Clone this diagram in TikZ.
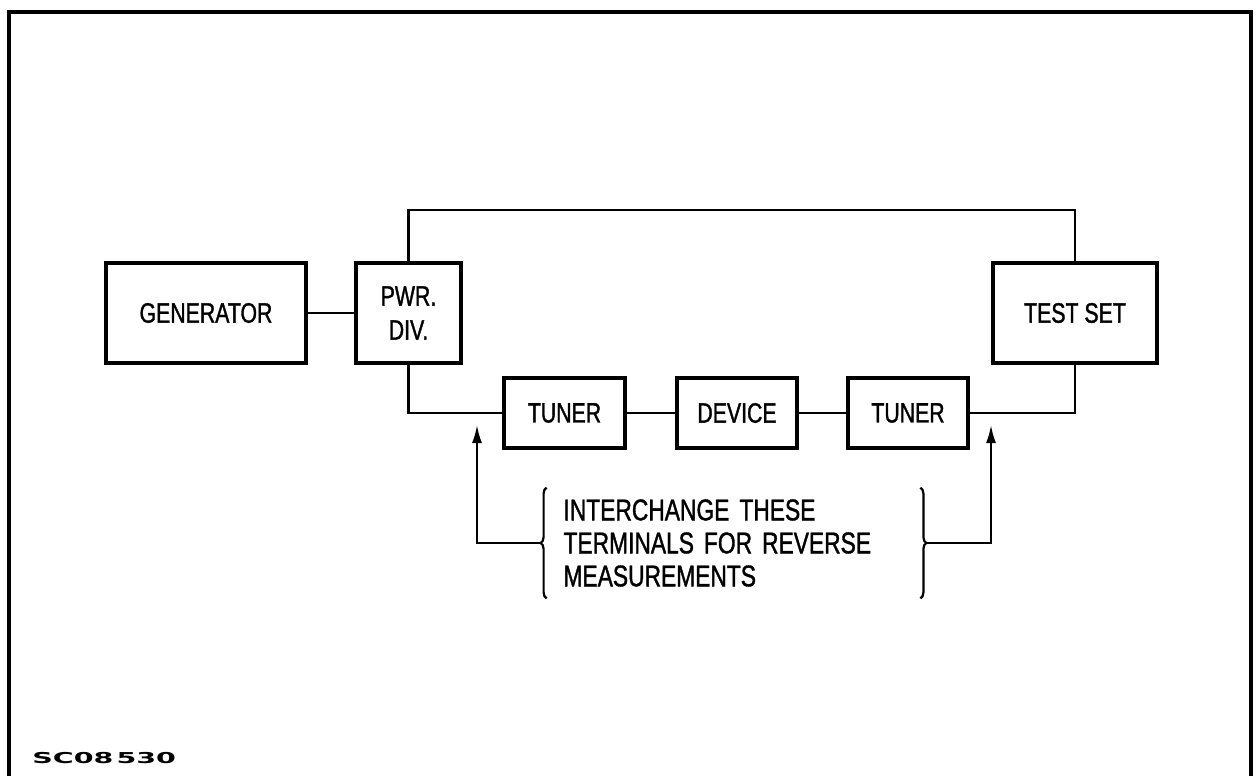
\documentclass[tikz,border=0pt]{standalone}
\usepackage{fontspec}
\newfontfamily\condfont[FakeStretch=0.76, FakeBold=1.2]{Liberation Sans}
\newfontfamily\codefont[FakeStretch=1.9]{DejaVu Sans}
\usetikzlibrary{arrows.meta, positioning, decorations.pathreplacing}

\begin{document}
\begin{tikzpicture}[
    x=0.5pt, y=-0.5pt,
    node distance=24pt,
    block/.style={rectangle, draw, line width=2pt, minimum width=#1, minimum height=50pt, inner sep=0pt, align=center, font=\condfont\fontsize{14}{17}\selectfont},
    smallblock/.style={block=#1, minimum height=35pt},
    note/.style={minimum width=186.5pt, minimum height=55pt, text width=170pt, inner xsep=8pt, align=left, font=\condfont\fontsize{15}{16.5}\selectfont},
    wire/.style={line width=1.1pt},
    arrow/.style={wire, -{Latex[length=9pt, width=5pt]}},
    bracket/.style={wire, decorate, decoration={brace, amplitude=3pt}}
]
    \useasboundingbox (0,0) rectangle (1260,776);
    \draw [line width=2pt] (9,12) rectangle (1251,800);

    \node [block=100pt] (gen) at (206,313) {GENERATOR};
    \node [block=52.5pt, right=23pt of gen] (pwr) {PWR.\\DIV.};
    \node [block=82pt] (test) at (1075,313) {TEST SET};
    \node [smallblock=60.5pt] (tun1) at (564.5,413) {TUNER};
    \node [smallblock=60pt, right=24pt of tun1] (dev) {DEVICE};
    \node [smallblock=60pt, right=23.5pt of dev] (tun2) {TUNER};

    \coordinate (bus) at (0,210);
    \draw [wire] (gen) -- (pwr);
    \draw [wire] (pwr.north) -- (pwr.north |- bus) -| (test.north);
    \draw [wire] (pwr.south) |- (tun1);
    \draw [wire] (tun1) -- (dev);
    \draw [wire] (dev) -- (tun2);
    \draw [wire] (tun2) -| (test.south);

    % note on swapping the terminals
    \node [note] (note) at (733.5,543) {INTERCHANGE THESE\\TERMINALS FOR REVERSE\\MEASUREMENTS};
    \draw [bracket] (note.south west) -- (note.north west);
    \draw [bracket] (note.north east) -- (note.south east);
    \coordinate (lterm) at (477,425);
    \coordinate (rterm) at (991,425);
    \draw [arrow] ([xshift=-3pt]note.west) -| (lterm);
    \draw [arrow] ([xshift=3pt]note.east) -| (rterm);

    \node [anchor=base west, inner sep=0pt, font=\codefont\bfseries\fontsize{7.5}{9}\selectfont] (code) at (32,763) {SC08\kern1.5pt530};
\end{tikzpicture}
\end{document}
